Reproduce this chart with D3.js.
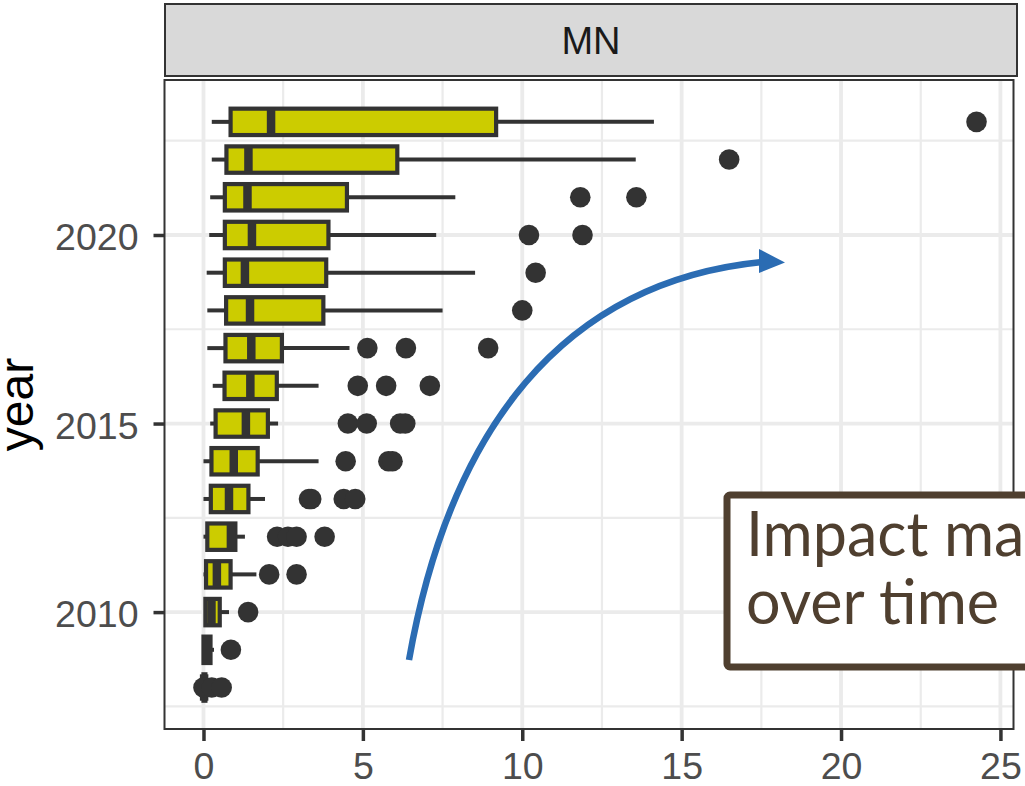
<!DOCTYPE html>
<html>
<head>
<meta charset="utf-8">
<script src="https://cdn.jsdelivr.net/npm/d3@7"></script>
<style>
  html, body { margin: 0; padding: 0; background: #ffffff; }
  svg { display: block; }
</style>
</head>
<body>
<div id="chart"></div>
<script>
// ---------------- data ----------------
const years     = [2008, 2009, 2010, 2011, 2012, 2013, 2014, 2015, 2016, 2017, 2018, 2019, 2020, 2021, 2022, 2023];
const q1        = [0.00, 0.00, 0.06, 0.08, 0.12, 0.23, 0.25, 0.38, 0.66, 0.69, 0.71, 0.67, 0.67, 0.67, 0.72, 0.85];
const medians   = [0.02, 0.10, 0.25, 0.42, 0.86, 0.80, 0.95, 1.33, 1.47, 1.50, 1.46, 1.30, 1.52, 1.38, 1.41, 2.12];
const q3        = [0.06, 0.22, 0.51, 0.85, 1.00, 1.41, 1.70, 2.02, 2.30, 2.46, 3.76, 3.85, 3.92, 4.50, 6.08, 9.18];
const whiskerLo = [0.00, 0.00, 0.03, 0.00, 0.00, 0.00, 0.00, 0.21, 0.29, 0.12, 0.12, 0.10, 0.18, 0.21, 0.26, 0.26];
const whiskerHi = [0.12, 0.33, 0.80, 1.66, 1.30, 1.93, 3.61, 2.34, 3.61, 4.58, 7.50, 8.52, 7.30, 7.90, 13.56, 14.13];
const outliers  = [
  [0.00, 0.26, 0.57],
  [0.86],
  [1.40],
  [2.06, 2.92],
  [2.31, 2.65, 2.92, 3.80],
  [3.31, 3.38, 4.40, 4.76],
  [4.46, 5.80, 5.93],
  [4.53, 5.12, 6.17, 6.33],
  [4.84, 5.73, 7.10],
  [5.14, 6.35, 8.93],
  [10.00],
  [10.42],
  [10.21, 11.89],
  [11.82, 13.58],
  [16.49],
  [24.25]
];
const xTicks = [0, 5, 10, 15, 20, 25];
const xMinor = [2.5, 7.5, 12.5, 17.5, 22.5];
const yTicks = [2010, 2015, 2020];
const yMinor = [2007.5, 2012.5, 2017.5, 2022.5];
const facetLabel = "MN";
const yTitle = "year";
const noteLines = ["Impact magnifies", "over time"];

// ---------------- layout ----------------
const W = 1025, H = 786;
const panel = { left: 164.5, right: 1013.5, top: 80, bottom: 729 };
const strip = { top: 4, bottom: 76 };

const x = d3.scaleLinear().domain([-1.223, 25.41]).range([panel.left, panel.right]);
const y = d3.scaleLinear().domain([2006.90, 2024.11]).range([panel.bottom, panel.top]);
const boxHalf = 0.35; // in years

const svg = d3.select("#chart").append("svg")
  .attr("width", W).attr("height", H)
  .style("overflow", "hidden");

// panel background
svg.append("rect")
  .attr("x", panel.left).attr("y", panel.top)
  .attr("width", panel.right - panel.left).attr("height", panel.bottom - panel.top)
  .attr("fill", "#ffffff");

const grid = svg.append("g");
// minor grid
grid.selectAll("line.vminor").data(xMinor).join("line")
  .attr("x1", d => x(d)).attr("x2", d => x(d))
  .attr("y1", panel.top).attr("y2", panel.bottom)
  .attr("stroke", "#EBEBEB").attr("stroke-width", 2.2);
grid.selectAll("line.hminor").data(yMinor).join("line")
  .attr("y1", d => y(d)).attr("y2", d => y(d))
  .attr("x1", panel.left).attr("x2", panel.right)
  .attr("stroke", "#EBEBEB").attr("stroke-width", 2.2);
// major grid
grid.selectAll("line.vmajor").data(xTicks).join("line")
  .attr("x1", d => x(d)).attr("x2", d => x(d))
  .attr("y1", panel.top).attr("y2", panel.bottom)
  .attr("stroke", "#EBEBEB").attr("stroke-width", 3.8);
grid.selectAll("line.hmajor").data(yTicks).join("line")
  .attr("y1", d => y(d)).attr("y2", d => y(d))
  .attr("x1", panel.left).attr("x2", panel.right)
  .attr("stroke", "#EBEBEB").attr("stroke-width", 3.8);

// ---------------- boxplots ----------------
const rows = years.map((yr, i) => ({
  year: yr, q1: q1[i], med: medians[i], q3: q3[i],
  lo: whiskerLo[i], hi: whiskerHi[i], out: outliers[i]
}));
const plotG = svg.append("g");
const ink = "#333333";
const boxes = plotG.selectAll("g.box").data(rows).join("g").attr("class", "box");

boxes.append("line")
  .attr("x1", d => x(d.lo)).attr("x2", d => x(d.q1))
  .attr("y1", d => y(d.year)).attr("y2", d => y(d.year))
  .attr("stroke", ink).attr("stroke-width", 4);
boxes.append("line")
  .attr("x1", d => x(d.q3)).attr("x2", d => x(d.hi))
  .attr("y1", d => y(d.year)).attr("y2", d => y(d.year))
  .attr("stroke", ink).attr("stroke-width", 4);
boxes.append("rect")
  .attr("x", d => x(d.q1))
  .attr("width", d => x(d.q3) - x(d.q1))
  .attr("y", d => y(d.year + boxHalf))
  .attr("height", d => y(d.year - boxHalf) - y(d.year + boxHalf))
  .attr("fill", "#CCCC00").attr("stroke", ink).attr("stroke-width", 4.2)
  .attr("stroke-linejoin", "miter");
boxes.append("line")
  .attr("x1", d => x(d.med)).attr("x2", d => x(d.med))
  .attr("y1", d => y(d.year + boxHalf)).attr("y2", d => y(d.year - boxHalf))
  .attr("stroke", ink).attr("stroke-width", 8.5);

boxes.selectAll("circle").data(d => d.out.map(v => ({ v, year: d.year }))).join("circle")
  .attr("cx", d => x(d.v)).attr("cy", d => y(d.year))
  .attr("r", 10.3).attr("fill", ink);

// ---------------- panel border & strip ----------------
svg.append("rect")
  .attr("x", panel.left).attr("y", panel.top)
  .attr("width", panel.right - panel.left).attr("height", panel.bottom - panel.top)
  .attr("fill", "none").attr("stroke", ink).attr("stroke-width", 2);

svg.append("rect")
  .attr("x", panel.left + 0.5).attr("y", strip.top)
  .attr("width", panel.right - panel.left + 3).attr("height", strip.bottom - strip.top)
  .attr("fill", "#D9D9D9").attr("stroke", ink).attr("stroke-width", 2);
svg.append("text")
  .attr("x", (panel.left + panel.right + 4) / 2).attr("y", 54)
  .attr("text-anchor", "middle")
  .attr("font-family", "'Liberation Sans', Arial, sans-serif")
  .attr("font-size", 38).attr("fill", "#1A1A1A")
  .text(facetLabel);

// ---------------- axes ----------------
const axisFont = "'Liberation Sans', Arial, sans-serif";
const xAxis = svg.append("g").attr("transform", `translate(0,${panel.bottom})`)
  .call(d3.axisBottom(x).tickValues(xTicks).tickSize(12).tickPadding(12).tickFormat(d3.format("d")));
xAxis.select(".domain").remove();
xAxis.selectAll(".tick line").attr("stroke", ink).attr("stroke-width", 3.5);
xAxis.selectAll(".tick text")
  .attr("font-family", axisFont).attr("font-size", 37.5).attr("fill", "#4D4D4D")
  .attr("dy", null).attr("y", 50);

const yAxis = svg.append("g").attr("transform", `translate(${panel.left},0)`)
  .call(d3.axisLeft(y).tickValues(yTicks).tickSize(11).tickPadding(15).tickFormat(d3.format("d")));
yAxis.select(".domain").remove();
yAxis.selectAll(".tick line").attr("stroke", ink).attr("stroke-width", 3.5);
yAxis.selectAll(".tick text")
  .attr("font-family", axisFont).attr("font-size", 37.5).attr("fill", "#4D4D4D")
  .attr("dy", null).attr("y", 14.5).attr("x", -26);

svg.append("text")
  .attr("transform", `translate(33,${(panel.top + panel.bottom) / 2}) rotate(-90)`)
  .attr("text-anchor", "middle")
  .attr("font-family", axisFont).attr("font-size", 48).attr("fill", "#000000")
  .text(yTitle);

// ---------------- annotation ----------------
const arrowColor = "#2B6CB3";
const arrowPath = d3.path();
arrowPath.moveTo(409, 660);
arrowPath.bezierCurveTo(449.7, 430, 562, 282, 762, 262);
svg.append("path").attr("d", arrowPath.toString())
  .attr("fill", "none").attr("stroke", arrowColor).attr("stroke-width", 6.5);
svg.append("path").attr("d", "M759,249 L785,262.5 L759,273 Z").attr("fill", arrowColor);

const noteColor = "#4F3F2F";
svg.append("rect")
  .attr("x", 727).attr("y", 495).attr("width", 400).attr("height", 172).attr("rx", 3)
  .attr("fill", "#ffffff").attr("stroke", noteColor).attr("stroke-width", 7);
svg.append("text")
  .attr("font-family", "Lato, 'Open Sans', sans-serif").attr("font-size", 61).attr("fill", noteColor)
  .selectAll("tspan").data(noteLines).join("tspan")
  .attr("x", 746).attr("y", (d, i) => 556 + i * 68)
  .text(d => d);
</script>
</body>
</html>
